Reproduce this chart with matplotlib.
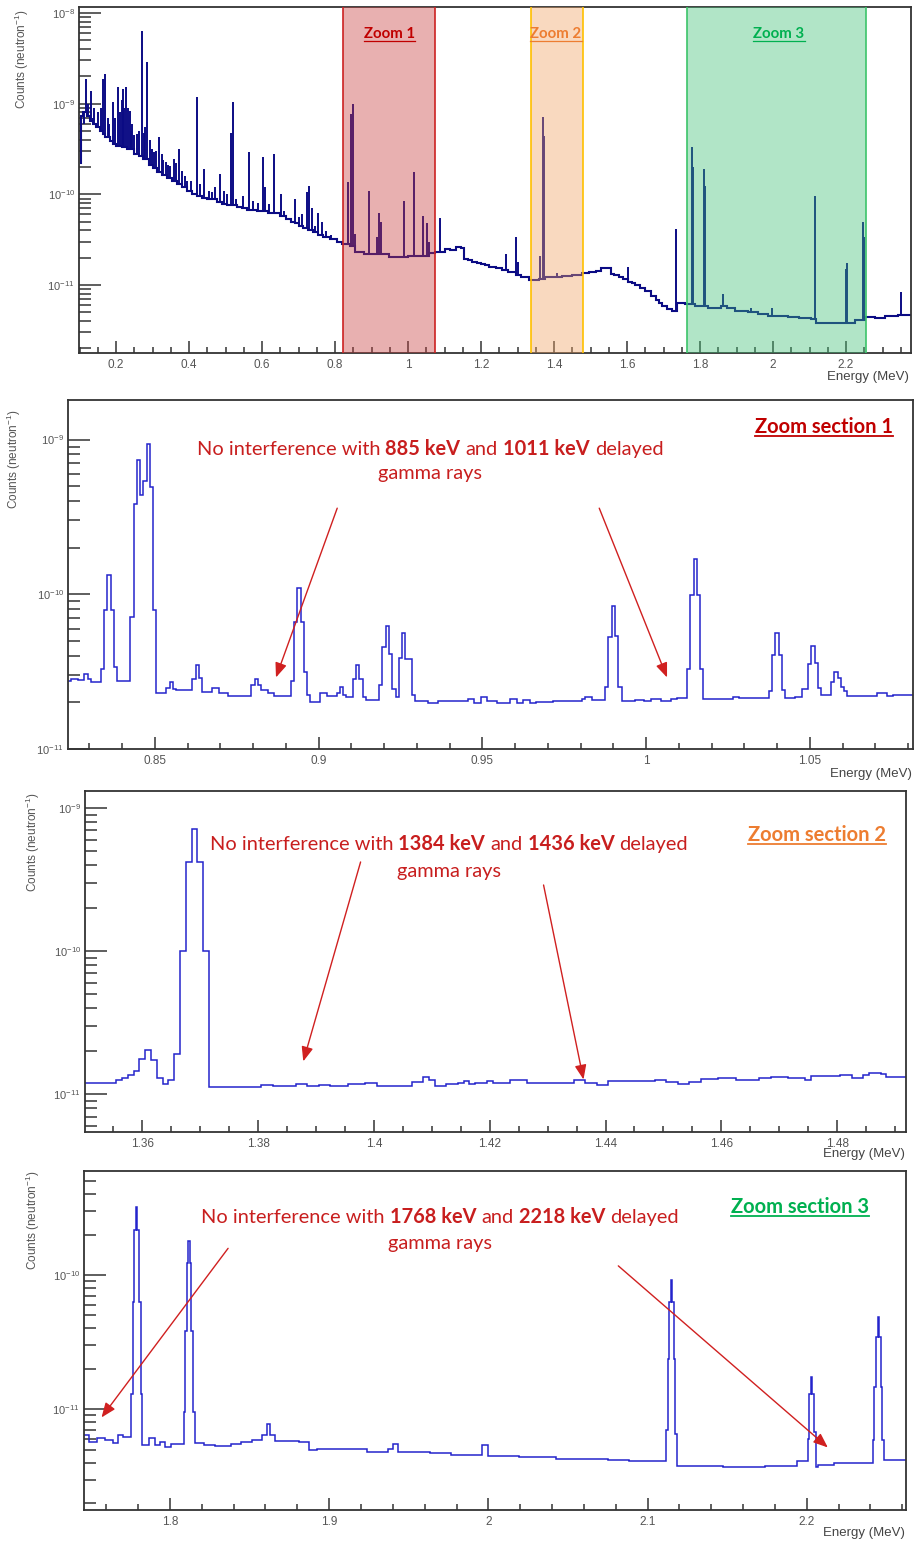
import numpy as np
import matplotlib
matplotlib.use('Agg')
import matplotlib.pyplot as plt
from matplotlib.ticker import MultipleLocator, LogLocator, FixedLocator, NullFormatter, FuncFormatter
from matplotlib.font_manager import FontProperties
from matplotlib.lines import Line2D

plt.rcParams['font.family'] = ['Liberation Sans', 'DejaVu Sans']
plt.rcParams['mathtext.default'] = 'regular'

# ---------------- data ----------------
# overview continuum: (left edge MeV, counts/neutron), last edge separate
overview_cont = [
    (0.100, 2.2e-10), (0.104, 7.3e-10), (0.110, 8.0e-10), (0.120, 7.4e-10), (0.129, 6.5e-10),
    (0.137, 6.0e-10), (0.145, 5.6e-10), (0.156, 5.0e-10), (0.163, 4.6e-10), (0.170, 4.3e-10),
    (0.184, 3.85e-10), (0.192, 3.6e-10), (0.200, 3.4e-10), (0.215, 3.3e-10), (0.230, 3.15e-10),
    (0.250, 2.8e-10), (0.262, 2.65e-10), (0.274, 2.44e-10), (0.290, 2.1e-10), (0.300, 1.95e-10),
    (0.312, 1.75e-10), (0.325, 1.62e-10), (0.340, 1.5e-10), (0.352, 1.4e-10), (0.367, 1.29e-10),
    (0.380, 1.2e-10), (0.395, 1.1e-10), (0.408, 1.02e-10), (0.421, 9.5e-11), (0.435, 9.2e-11),
    (0.450, 8.8e-11), (0.476, 8.2e-11), (0.490, 7.9e-11), (0.505, 7.6e-11), (0.531, 7.2e-11),
    (0.545, 7.0e-11), (0.560, 6.8e-11), (0.585, 6.5e-11), (0.615, 6.3e-11), (0.648, 5.8e-11),
    (0.667, 5.3e-11), (0.678, 5.0e-11), (0.690, 4.8e-11), (0.700, 4.5e-11), (0.711, 4.3e-11),
    (0.725, 4.0e-11), (0.740, 3.8e-11), (0.752, 3.6e-11), (0.766, 3.4e-11), (0.785, 3.2e-11),
    (0.804, 3.0e-11), (0.820, 2.8e-11), (0.840, 2.7e-11), (0.855, 2.3e-11), (0.880, 2.2e-11),
    (0.949, 2.05e-11), (1.000, 2.1e-11), (1.058, 2.25e-11), (1.075, 2.34e-11), (1.100, 2.5e-11),
    (1.115, 2.45e-11), (1.132, 2.6e-11), (1.145, 2.55e-11), (1.154, 1.95e-11), (1.165, 1.88e-11),
    (1.175, 1.8e-11), (1.190, 1.76e-11), (1.200, 1.72e-11), (1.210, 1.68e-11), (1.222, 1.6e-11),
    (1.240, 1.55e-11), (1.257, 1.45e-11), (1.275, 1.38e-11), (1.296, 1.28e-11), (1.310, 1.22e-11),
    (1.331, 1.15e-11), (1.360, 1.18e-11), (1.376, 1.22e-11), (1.400, 1.24e-11), (1.421, 1.27e-11),
    (1.450, 1.3e-11), (1.476, 1.37e-11), (1.495, 1.4e-11), (1.514, 1.44e-11), (1.530, 1.53e-11),
    (1.555, 1.31e-11), (1.565, 1.28e-11), (1.577, 1.24e-11), (1.590, 1.18e-11), (1.604, 1.09e-11),
    (1.613, 1.05e-11), (1.623, 1.0e-11), (1.635, 9.3e-12), (1.650, 8.5e-12), (1.665, 7.6e-12),
    (1.678, 6.9e-12), (1.687, 6.3e-12), (1.695, 5.8e-12), (1.710, 5.5e-12), (1.722, 5.2e-12),
    (1.736, 6.4e-12), (1.760, 6.1e-12), (1.787, 5.8e-12), (1.823, 5.6e-12), (1.858, 5.9e-12),
    (1.875, 5.6e-12), (1.897, 5.2e-12), (1.932, 5.0e-12), (1.960, 4.8e-12), (1.987, 4.5e-12),
    (2.041, 4.4e-12), (2.070, 4.3e-12), (2.105, 4.27e-12), (2.118, 3.85e-12), (2.160, 3.8e-12),
    (2.225, 4.07e-12), (2.252, 4.4e-12), (2.280, 4.35e-12), (2.307, 4.5e-12), (2.342, 4.7e-12),
]
overview_end = 2.378

# overview peaks: (energy MeV, peak counts/neutron)
overview_peaks = [
    (0.112, 6.0e-10), (0.118, 1.87e-9), (0.124, 1.0e-9), (0.131, 1.37e-9), (0.136, 7.0e-10),
    (0.140, 9.0e-10), (0.150, 8.0e-10), (0.158, 9.0e-10), (0.164, 1.87e-9), (0.170, 2.1e-9),
    (0.178, 7.0e-10), (0.182, 6.0e-10), (0.192, 1.04e-9), (0.198, 7.0e-10), (0.205, 1.52e-9),
    (0.212, 8.0e-10), (0.215, 1.1e-9), (0.219, 1.45e-9), (0.223, 9.0e-10), (0.227, 1.52e-9),
    (0.233, 9.0e-10), (0.238, 8.3e-10), (0.242, 5.0e-10), (0.245, 6.0e-10), (0.250, 4.5e-10),
    (0.257, 4.6e-10), (0.264, 5.0e-10), (0.271, 6.3e-9), (0.276, 4.8e-10), (0.280, 5.5e-10),
    (0.285, 2.9e-9), (0.292, 4.0e-10), (0.298, 3.2e-10), (0.304, 2.9e-10), (0.310, 3.0e-10),
    (0.317, 4.3e-10), (0.325, 2.8e-10), (0.330, 2.4e-10), (0.336, 2.3e-10), (0.343, 2.1e-10),
    (0.348, 2.04e-10), (0.358, 2.44e-10), (0.365, 2.2e-10), (0.372, 3.2e-10), (0.380, 1.8e-10),
    (0.388, 1.6e-10), (0.394, 1.4e-10), (0.405, 1.4e-10), (0.421, 1.18e-9), (0.430, 1.3e-10),
    (0.440, 1.9e-10), (0.455, 1.1e-10), (0.462, 1.05e-10), (0.470, 1.2e-10), (0.484, 1.66e-10),
    (0.497, 1.1e-10), (0.505, 1.0e-10), (0.516, 4.8e-10), (0.520, 1.04e-9), (0.530, 9.0e-11),
    (0.547, 9.5e-11), (0.563, 2.9e-10), (0.575, 8.5e-11), (0.590, 8.0e-11), (0.602, 2.6e-10),
    (0.608, 1.2e-10), (0.620, 7.8e-11), (0.632, 2.76e-10), (0.651, 1.0e-10), (0.660, 6.5e-11),
    (0.689, 8.8e-11), (0.700, 5.6e-11), (0.710, 6.0e-11), (0.722, 1.05e-10), (0.730, 1.23e-10),
    (0.736, 7.0e-11), (0.745, 4.5e-11), (0.752, 6.2e-11), (0.763, 4.9e-11), (0.775, 3.9e-11),
    (0.790, 3.6e-11), (0.836, 1.36e-10), (0.845, 7.7e-10), (0.848, 1.0e-9), (0.854, 3.7e-11),
    (0.894, 1.1e-10), (0.916, 3.4e-11), (0.921, 6.3e-11), (0.927, 4.9e-11), (0.990, 8.4e-11),
    (1.015, 1.75e-10), (1.040, 5.7e-11), (1.051, 4.8e-11), (1.058, 3.0e-11), (1.088, 5.5e-11),
    (1.268, 2.2e-11), (1.296, 3.35e-11), (1.300, 1.8e-11), (1.361, 2.1e-11), (1.369, 7.1e-10),
    (1.372, 4.4e-10), (1.409, 1.35e-11), (1.604, 1.6e-11), (1.733, 4.1e-11), (1.779, 3.3e-10),
    (1.782, 2.0e-10), (1.8115, 1.9e-10), (1.814, 1.23e-10), (1.862, 7.9e-12), (1.940, 5.6e-12),
    (1.996, 5.6e-12), (2.1147, 9.5e-11), (2.201, 1.5e-11), (2.203, 1.77e-11), (2.2455, 4.9e-11),
    (2.248, 3.4e-11), (2.350, 8.3e-12),
]

# zoomed histograms: (left edge MeV, counts/neutron)
zoom1_bins = [
    (0.8235, 2.74e-11), (0.8245, 2.85e-11), (0.8265, 2.8e-11), (0.8285, 3.07e-11), (0.8295, 2.85e-11),
    (0.8305, 2.69e-11), (0.8335, 3.3e-11), (0.8345, 7.9e-11), (0.8355, 1.34e-10), (0.8365, 7.9e-11),
    (0.8375, 3.4e-11), (0.8385, 2.76e-11), (0.8425, 7.1e-11), (0.8435, 3.85e-10), (0.8445, 7.35e-10),
    (0.8455, 4.4e-10), (0.8465, 5.4e-10), (0.8475, 9.4e-10), (0.8485, 4.9e-10), (0.8495, 7.9e-11),
    (0.8505, 2.3e-11), (0.8535, 2.48e-11), (0.8545, 2.69e-11), (0.8555, 2.46e-11), (0.8565, 2.4e-11),
    (0.8615, 2.85e-11), (0.8625, 3.5e-11), (0.8635, 2.87e-11), (0.8645, 2.35e-11), (0.8675, 2.48e-11),
    (0.8695, 2.29e-11), (0.8725, 2.2e-11), (0.8795, 2.6e-11), (0.8805, 2.83e-11), (0.8815, 2.58e-11),
    (0.8825, 2.4e-11), (0.8845, 2.29e-11), (0.8865, 2.2e-11), (0.8915, 2.74e-11), (0.8925, 6.6e-11),
    (0.8935, 1.1e-10), (0.8945, 6.6e-11), (0.8955, 3.16e-11), (0.8965, 2.22e-11), (0.8975, 2.0e-11),
    (0.9005, 2.29e-11), (0.9025, 2.2e-11), (0.9055, 2.29e-11), (0.9065, 2.5e-11), (0.9075, 2.25e-11),
    (0.9085, 2.16e-11), (0.9105, 2.85e-11), (0.9115, 3.5e-11), (0.9125, 2.83e-11), (0.9135, 2.16e-11),
    (0.9145, 2.07e-11), (0.9185, 2.6e-11), (0.9195, 4.57e-11), (0.9205, 6.2e-11), (0.9215, 4.1e-11),
    (0.9225, 2.46e-11), (0.9235, 2.16e-11), (0.9245, 3.9e-11), (0.9255, 5.6e-11), (0.9265, 3.8e-11),
    (0.9285, 2.25e-11), (0.9295, 2.04e-11), (0.9335, 1.98e-11), (0.9365, 2.04e-11), (0.9455, 2.1e-11),
    (0.9475, 1.98e-11), (0.9495, 2.16e-11), (0.9515, 2.04e-11), (0.9545, 1.98e-11), (0.9585, 2.1e-11),
    (0.9605, 1.98e-11), (0.9625, 2.08e-11), (0.9645, 1.98e-11), (0.9665, 2.02e-11), (0.9715, 2.04e-11),
    (0.9805, 2.12e-11), (0.9815, 2.16e-11), (0.9835, 2.08e-11), (0.9875, 2.5e-11), (0.9885, 5.3e-11),
    (0.9895, 8.4e-11), (0.9905, 5.4e-11), (0.9915, 2.5e-11), (0.9925, 2.04e-11), (0.9965, 2.08e-11),
    (0.9995, 2.04e-11), (1.0015, 2.12e-11), (1.0045, 2.04e-11), (1.0075, 2.1e-11), (1.0095, 2.14e-11),
    (1.0125, 3.3e-11), (1.0135, 9.95e-11), (1.0145, 1.68e-10), (1.0155, 9.95e-11), (1.0165, 3.3e-11),
    (1.0175, 2.1e-11), (1.0265, 2.16e-11), (1.0285, 2.13e-11), (1.0375, 2.36e-11), (1.0385, 4.04e-11),
    (1.0395, 5.65e-11), (1.0405, 4.04e-11), (1.0415, 2.4e-11), (1.0425, 2.13e-11), (1.0455, 2.16e-11),
    (1.0475, 2.43e-11), (1.0495, 3.56e-11), (1.0505, 4.63e-11), (1.0515, 3.6e-11), (1.0525, 2.48e-11),
    (1.0535, 2.25e-11), (1.0565, 2.7e-11), (1.0575, 3.16e-11), (1.0585, 2.86e-11), (1.0595, 2.52e-11),
    (1.0605, 2.36e-11), (1.0615, 2.2e-11), (1.0705, 2.3e-11), (1.0735, 2.2e-11), (1.0755, 2.25e-11),
]
zoom1_end = 1.0815

zoom2_bins = [
    (1.3500, 1.21e-11), (1.3555, 1.25e-11), (1.3565, 1.31e-11), (1.3575, 1.36e-11), (1.3585, 1.46e-11),
    (1.3595, 1.77e-11), (1.3605, 2.04e-11), (1.3615, 1.75e-11), (1.3625, 1.31e-11), (1.3635, 1.19e-11),
    (1.3645, 1.25e-11), (1.3655, 1.9e-11), (1.3665, 1.01e-10), (1.3675, 4.17e-10), (1.3685, 7.1e-10),
    (1.3695, 4.17e-10), (1.3705, 1.01e-10), (1.3715, 1.13e-11), (1.3795, 1.12e-11), (1.3805, 1.16e-11),
    (1.3825, 1.15e-11), (1.3865, 1.18e-11), (1.3885, 1.15e-11), (1.3905, 1.16e-11), (1.3925, 1.15e-11),
    (1.3955, 1.19e-11), (1.3965, 1.18e-11), (1.3985, 1.21e-11), (1.4005, 1.15e-11), (1.4065, 1.22e-11),
    (1.4085, 1.32e-11), (1.4095, 1.25e-11), (1.4105, 1.15e-11), (1.4125, 1.19e-11), (1.4145, 1.21e-11),
    (1.4155, 1.24e-11), (1.4165, 1.19e-11), (1.4175, 1.21e-11), (1.4195, 1.24e-11), (1.4205, 1.21e-11),
    (1.4235, 1.26e-11), (1.4265, 1.21e-11), (1.4345, 1.26e-11), (1.4365, 1.21e-11), (1.4385, 1.17e-11),
    (1.4405, 1.24e-11), (1.4485, 1.26e-11), (1.4505, 1.22e-11), (1.4525, 1.19e-11), (1.4545, 1.23e-11),
    (1.4565, 1.28e-11), (1.4595, 1.3e-11), (1.4625, 1.27e-11), (1.4665, 1.31e-11), (1.4685, 1.33e-11),
    (1.4715, 1.31e-11), (1.4745, 1.26e-11), (1.4755, 1.34e-11), (1.4805, 1.36e-11), (1.4825, 1.31e-11),
    (1.4845, 1.36e-11), (1.4855, 1.42e-11), (1.4875, 1.38e-11), (1.4885, 1.33e-11),
]
zoom2_end = 1.4919

zoom3_bins = [
    (1.7460, 6.4e-12), (1.7490, 5.74e-12), (1.7540, 6.1e-12), (1.7590, 5.9e-12), (1.7640, 5.6e-12),
    (1.7675, 6.4e-12), (1.7705, 6.2e-12), (1.7755, 1.31e-11), (1.7765, 6.3e-11), (1.7775, 2.16e-10),
    (1.7785, 3.23e-10), (1.7795, 2.16e-10), (1.7805, 6.3e-11), (1.7815, 1.31e-11), (1.7825, 5.4e-12),
    (1.7870, 6.1e-12), (1.7905, 5.4e-12), (1.7935, 5.7e-12), (1.7970, 5.24e-12), (1.8005, 5.5e-12),
    (1.8085, 9.6e-12), (1.8095, 3.8e-11), (1.8105, 1.22e-10), (1.8115, 1.8e-10), (1.8125, 1.22e-10),
    (1.8135, 3.8e-11), (1.8145, 9.6e-12), (1.8155, 5.64e-12), (1.8215, 5.4e-12), (1.8285, 5.35e-12),
    (1.8385, 5.5e-12), (1.8445, 5.74e-12), (1.8515, 5.9e-12), (1.8580, 6.44e-12), (1.8610, 7.83e-12),
    (1.8630, 6.44e-12), (1.8660, 5.8e-12), (1.8810, 5.74e-12), (1.8875, 5.0e-12), (1.8925, 5.1e-12),
    (1.9105, 5.05e-12), (1.9235, 4.8e-12), (1.9370, 5.1e-12), (1.9400, 5.5e-12), (1.9435, 4.8e-12),
    (1.9635, 4.7e-12), (1.9765, 4.57e-12), (1.9960, 5.4e-12), (1.9995, 4.5e-12), (2.0190, 4.38e-12),
    (2.0425, 4.3e-12), (2.0750, 4.2e-12), (2.0885, 4.14e-12), (2.1115, 7.0e-12), (2.1125, 2.36e-11),
    (2.1135, 6.3e-11), (2.1145, 9.2e-11), (2.1155, 6.3e-11), (2.1165, 2.36e-11), (2.1175, 6.5e-12),
    (2.1185, 3.78e-12), (2.1475, 3.72e-12), (2.1740, 3.78e-12), (2.1940, 4.14e-12), (2.2005, 6.0e-12),
    (2.2015, 1.31e-11), (2.2025, 1.73e-11), (2.2035, 1.31e-11), (2.2045, 6.8e-12), (2.2055, 3.74e-12),
    (2.2070, 3.82e-12), (2.2170, 3.97e-12), (2.2415, 5.9e-12), (2.2425, 1.47e-11), (2.2435, 3.47e-11),
    (2.2445, 4.84e-11), (2.2455, 3.47e-11), (2.2465, 1.47e-11), (2.2475, 5.9e-12), (2.2485, 4.17e-12),
]
zoom3_end = 2.2623

# zoom windows marked on the overview (MeV)
zoom_windows = [(0.823, 1.074), (1.337, 1.480), (1.7635, 2.255)]
zoom_names = ['Zoom 1', 'Zoom 2', 'Zoom 3']

# ---------------- figure ----------------
W, H = 915, 1544
fig = plt.figure(figsize=(W / 100, H / 100), dpi=100)
renderer = fig.canvas.get_renderer()
FAM = ['Lato', 'DejaVu Sans']


def box(l, t, r, b):
    return [l / W, 1 - b / H, (r - l) / W, (b - t) / H]


def fy(y):
    return 1 - y / H


def style(ax, xlim, ylim, major, minor):
    ax.set_yscale('log')
    ax.set_xlim(*xlim)
    ax.set_ylim(*ylim)
    ax.xaxis.set_major_locator(MultipleLocator(major))
    ax.xaxis.set_minor_locator(MultipleLocator(minor))
    ax.xaxis.set_major_formatter(FuncFormatter(lambda v, p: f'{v:g}'))
    # only the decades that lie inside the axis range
    lo, hi = int(np.ceil(np.log10(ylim[0]))), int(np.floor(np.log10(ylim[1])))
    ax.yaxis.set_major_locator(FixedLocator([10.0 ** k for k in range(lo, hi + 1)]))
    ax.yaxis.set_minor_locator(LogLocator(base=10, subs=np.arange(2, 10), numticks=20))
    ax.yaxis.set_minor_formatter(NullFormatter())
    ax.tick_params(which='both', direction='in', top=False, right=False,
                   color='#333333', labelcolor='#555555')
    ax.tick_params(axis='x', which='major', length=8.5, width=1.1, labelsize=8.5, pad=4)
    ax.tick_params(axis='x', which='minor', length=4.5, width=1.1)
    ax.tick_params(axis='y', which='major', length=16, width=1.1, labelsize=8, pad=3)
    ax.tick_params(axis='y', which='minor', length=8.5, width=1.1)
    for s in ax.spines.values():
        s.set_color('#333333')
        s.set_linewidth(1.3)


def hist(ax, bins, end, color, lw):
    lo = [b[0] for b in bins]
    vals = [b[1] for b in bins]
    ax.stairs(vals, lo + [end], baseline=None, color=color, lw=lw, zorder=2)


def axis_labels(xl, top, ex, ey):
    fig.text(xl / W, fy(top), r'Counts (neutron$^{-1}$)', rotation=90, ha='center', va='top',
             fontsize=8.5, color='#555555')
    fig.text(ex / W, fy(ey), 'Energy (MeV)', ha='right', va='center', fontsize=9.5, color='#444444')


def text_w(s, size, weight='normal'):
    fp = FontProperties(family=FAM, size=size, weight=weight)
    return renderer.get_text_width_height_descent(s, fp, ismath=False)[0]


def label(xc, ybase, s, color, size, lw, off):
    w = text_w(s, size, 'bold')
    fig.text(xc / W, fy(ybase), s, ha='center', va='baseline', fontsize=size,
             fontweight='bold', color=color, family=FAM)
    yl = fy(ybase + off)
    fig.add_artist(Line2D([(xc - w / 2) / W, (xc + w / 2) / W], [yl, yl], color=color, lw=lw))


def rich_line(xc, ybase, runs, size, color):
    gap = text_w('n n', size) - text_w('nn', size)
    widths = [text_w(s, size, w) for s, w in runs]
    x = xc - (sum(widths) + gap * (len(runs) - 1)) / 2
    for (s, w), wd in zip(runs, widths):
        fig.text(x / W, fy(ybase), s, fontsize=size, fontweight=w, color=color, ha='left',
                 va='baseline', family=FAM)
        x += wd + gap


def note(xc, y1, y2, a, b):
    red = '#c81e1e'
    rich_line(xc, y1, [('No interference with', 'normal'), (a, 'bold'), ('and', 'normal'),
                       (b, 'bold'), ('delayed', 'normal')], 14.4, red)
    rich_line(xc, y2, [('gamma rays', 'normal')], 14.4, red)


def arrow(ax, tail, tip):
    ax.annotate('', xy=tip, xytext=tail, zorder=5,
                arrowprops=dict(arrowstyle='-|>,head_length=0.55,head_width=0.22', color='#d02020',
                                lw=1.0, mutation_scale=16, shrinkA=0, shrinkB=0))


navy = '#0b0b84'
blue = '#2424cc'

# ---- overview ----
ax1 = fig.add_axes(box(79, 7, 911, 353))
style(ax1, (0.0985, 2.378), (1.78e-12, 1.165e-8), 0.2, 0.05)
hist(ax1, overview_cont, overview_end, navy, 1.5)
c_lo = np.array([c[0] for c in overview_cont])
c_val = np.array([c[1] for c in overview_cont])
pk_e = np.array([p[0] for p in overview_peaks])
pk_v = np.array([p[1] for p in overview_peaks])
base = c_val[np.searchsorted(c_lo, pk_e, side='right') - 1]
ax1.vlines(pk_e, base, pk_v, color=navy, lw=1.4, zorder=2)

span_fill = ['#c63a3a', '#f2a261', '#3ec075']
span_edge = ['#cc2222', '#ffc000', '#3cc46a']
label_col = ['#c00000', '#ed7d31', '#00b050']
for (lo, hi), fc, ec in zip(zoom_windows, span_fill, span_edge):
    ax1.axvspan(lo, hi, color=fc, alpha=0.4, lw=0, zorder=3)
    ax1.axvline(lo, color=ec, lw=1.2, zorder=4)
    ax1.axvline(hi, color=ec, lw=1.2, zorder=4)
axis_labels(22, 10, 909, 377)
for xc, name, col in zip([389.5, 556, 779], zoom_names, label_col):
    label(xc, 38.5, name, col, 10.8, 0.9, 2.0)

# ---- zoom section 1 ----
ax2 = fig.add_axes(box(68, 400, 913, 749))
style(ax2, (0.8235, 1.0815), (1e-11, 1.8e-9), 0.05, 0.01)
hist(ax2, zoom1_bins, zoom1_end, blue, 1.1)
axis_labels(14, 410, 912, 774)
label(824, 433, 'Zoom section 1', '#c00000', 14.5, 1.3, 2.8)
note(430, 455, 478.5, '885 keV', '1011 keV')
arrow(ax2, (0.9057, 3.6e-10), (0.8870, 2.9e-11))
arrow(ax2, (0.9857, 3.6e-10), (1.0064, 2.9e-11))

# ---- zoom section 2 ----
ax3 = fig.add_axes(box(85, 791, 906, 1132))
style(ax3, (1.3501, 1.4919), (5.46e-12, 1.315e-9), 0.02, 0.005)
hist(ax3, zoom2_bins, zoom2_end, blue, 1.1)
axis_labels(33, 793, 905, 1154)
label(817, 841, 'Zoom section 2', '#ed7d31', 14.5, 1.3, 2.8)
note(449, 850, 877, '1384 keV', '1436 keV')
arrow(ax3, (1.3977, 4.2e-10), (1.3878, 1.7e-11))
arrow(ax3, (1.4293, 2.9e-10), (1.4362, 1.27e-11))

# ---- zoom section 3 ----
ax4 = fig.add_axes(box(84, 1171, 906, 1510))
style(ax4, (1.746, 2.2623), (1.78e-12, 5.95e-10), 0.1, 0.02)
hist(ax4, zoom3_bins, zoom3_end, blue, 1.1)
axis_labels(33, 1171, 905, 1533)
label(800, 1213, 'Zoom section 3', '#00b050', 14.5, 1.3, 2.8)
note(440, 1223, 1248.5, '1768 keV', '2218 keV')
arrow(ax4, (1.8365, 1.58e-10), (1.757, 8.7e-12))
arrow(ax4, (2.0816, 1.17e-10), (2.2132, 5.2e-12))

fig.savefig('out.png', dpi=100)
